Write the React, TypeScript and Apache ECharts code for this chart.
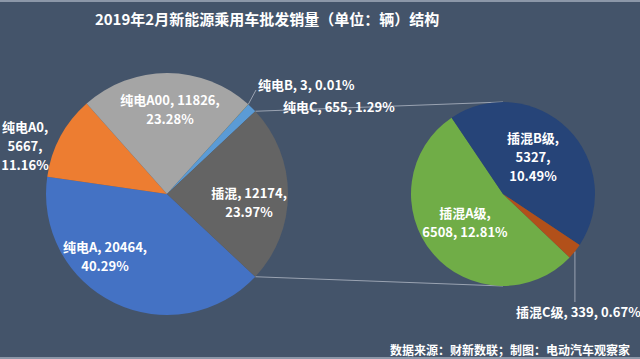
import React, { useEffect, useRef } from "react";
import * as echarts from "echarts";

// ---- data ----
const PURE_NAMES = ["纯电A", "纯电A0", "纯电A00", "纯电B", "纯电C"];
const PURE_VALUES = [20464, 5667, 11826, 3, 655];
const PHEV_NAMES = ["插混A级", "插混B级", "插混C级"];
const PHEV_VALUES = [6508, 5327, 339];
const OTHER_NAME = "插混";
const TITLE = "2019年2月新能源乘用车批发销量（单位：辆）结构";
const SOURCE = "数据来源：财新数联；制图：电动汽车观察家";

// ---- colours ----
const PURE_COLORS = ["#4472C4", "#ED7D31", "#A5A5A5", "#FFC000", "#5B9BD5"];
const PHEV_COLORS = ["#70AD47", "#264478", "#B2501A"];
const OTHER_COLOR = "#646464";
const BG = "#44546A";

// ---- layout ----
const LEFT_C = [167, 194];
const LEFT_R = 121;
const RIGHT_C = [503, 194];
const RIGHT_R = 92;
const RIGHT_START = -43.6;
const FONT = "'Noto Sans CJK SC', 'Noto Sans', sans-serif";

// label separators (", " or ",\n") after name and after value
const SEPS: Record<string, [string, string]> = {
  纯电A: [", ", ",\n"],
  纯电A0: [",\n", ",\n"],
  纯电A00: [", ", ",\n"],
  纯电B: [", ", ", "],
  纯电C: [", ", ", "],
  插混: [", ", ",\n"],
  插混A级: [",\n", ", "],
  插混B级: [",\n", ",\n"],
  插混C级: [", ", ", "],
};
// label anchor positions [x, y, align]
const LABEL_POS: Record<string, [number, number, string]> = {
  纯电A: [105, 256, "center"],
  纯电A0: [25, 145, "center"],
  纯电A00: [170, 109, "center"],
  纯电B: [258, 84, "left"],
  纯电C: [283, 106, "left"],
  插混: [249, 202, "center"],
  插混A级: [465, 222, "center"],
  插混B级: [533, 156, "center"],
  插混C级: [516, 311, "left"],
};

const sum = (a: number[]) => a.reduce((s, v) => s + v, 0);

function pt(c: number[], r: number, deg: number): number[] {
  const a = (deg * Math.PI) / 180;
  return [c[0] + r * Math.cos(a), c[1] - r * Math.sin(a)];
}

export default function App() {
  const ref = useRef<HTMLDivElement>(null);
  useEffect(() => {
    if (!ref.current) return;
    const chart = echarts.init(ref.current, null, { renderer: "svg" });
    const otherValue = sum(PHEV_VALUES);
    const total = sum(PURE_VALUES) + otherValue;
    const pct = (v: number) => ((v / total) * 100).toFixed(2) + "%";
    const text = (name: string, v: number) => {
      const s = SEPS[name];
      return name + s[0] + v + s[1] + pct(v);
    };
    const leftHalf = (otherValue / total) * 180;
    const leftStart = -leftHalf;

    // leader line for 纯电B
    const idxB = PURE_NAMES.indexOf("纯电B");
    const cumB = sum(PURE_VALUES.slice(0, idxB)) + PURE_VALUES[idxB] / 2;
    const angB = leftStart - (360 * cumB) / total;
    const bStart = pt(LEFT_C, LEFT_R, angB);
    // leader for 插混C级
    const phevSum = otherValue;
    const idxC = PHEV_NAMES.indexOf("插混C级");
    const cumC = sum(PHEV_VALUES.slice(0, idxC)) + PHEV_VALUES[idxC] / 2;
    const angC = RIGHT_START - (360 * cumC) / phevSum;
    const cStart = pt(RIGHT_C, RIGHT_R, angC);
    // connectors
    const topL = pt(LEFT_C, LEFT_R, leftHalf);
    const botL = pt(LEFT_C, LEFT_R, -leftHalf);
    const topR = pt(RIGHT_C, RIGHT_R, 90);
    const botR = pt(RIGHT_C, RIGHT_R, -90);

    const labelStyle = {
      show: true,
      position: "inside",
      color: "#fff",
      fontFamily: FONT,
      fontSize: 13,
      fontWeight: "bold",
      lineHeight: 19,
      align: "center",
      formatter: (p: any) => text(p.name, p.value),
    };
    const makeLayout = (names: string[]) => (p: any) => {
      const nm = names[p.dataIndex];
      const pos = LABEL_POS[nm];
      return { x: pos[0], y: pos[1], align: pos[2], verticalAlign: "middle", hideOverlap: false };
    };
    const leftNames = [...PURE_NAMES, OTHER_NAME];
    const leftData = [
      ...PURE_NAMES.map((n, i) => ({ name: n, value: PURE_VALUES[i], itemStyle: { color: PURE_COLORS[i] } })),
      { name: OTHER_NAME, value: otherValue, itemStyle: { color: OTHER_COLOR } },
    ];
    const rightData = PHEV_NAMES.map((n, i) => ({ name: n, value: PHEV_VALUES[i], itemStyle: { color: PHEV_COLORS[i] } }));
    const lineStyle = { stroke: "#9aa3b2", lineWidth: 1 };

    chart.setOption({
      animation: false,
      backgroundColor: BG,
      title: [
        {
          text: TITLE,
          left: 262,
          top: 6,
          textAlign: "center",
          textStyle: { color: "#fff", fontFamily: FONT, fontSize: 15, fontWeight: "bold" },
        },
        {
          text: SOURCE,
          left: 385,
          top: 338,
          textStyle: { color: "#fff", fontFamily: FONT, fontSize: 12, fontWeight: "bold" },
        },
      ],
      graphic: [
        { type: "rect", shape: { x: 0, y: 0, width: 640, height: 2 }, style: { fill: "#8c97a8" } },
        { type: "rect", shape: { x: 0, y: 357, width: 640, height: 2 }, style: { fill: "#8c97a8" } },
        { type: "line", shape: { x1: topL[0], y1: topL[1], x2: topR[0], y2: topR[1] }, style: lineStyle },
        { type: "line", shape: { x1: botL[0], y1: botL[1], x2: botR[0], y2: botR[1] }, style: lineStyle },
        { type: "line", shape: { x1: bStart[0], y1: bStart[1], x2: 256, y2: 90 }, style: lineStyle },
        { type: "line", shape: { x1: cStart[0], y1: cStart[1], x2: cStart[0], y2: 302 }, style: lineStyle },
      ],
      series: [
        {
          type: "pie",
          center: LEFT_C,
          radius: LEFT_R,
          startAngle: leftStart,
          clockwise: true,
          avoidLabelOverlap: false,
          label: labelStyle,
          labelLine: { show: false },
          labelLayout: makeLayout(leftNames),
          data: leftData,
          z: 2,
        },
        {
          type: "pie",
          center: RIGHT_C,
          radius: RIGHT_R,
          startAngle: RIGHT_START,
          clockwise: true,
          avoidLabelOverlap: false,
          label: labelStyle,
          labelLine: { show: false },
          labelLayout: makeLayout(PHEV_NAMES),
          data: rightData,
          z: 2,
        },
      ],
    });
    return () => chart.dispose();
  }, []);
  return (
    <div
      ref={ref}
      style={{ position: "fixed", left: 0, top: 0, width: 640, height: 359 }}
    />
  );
}
